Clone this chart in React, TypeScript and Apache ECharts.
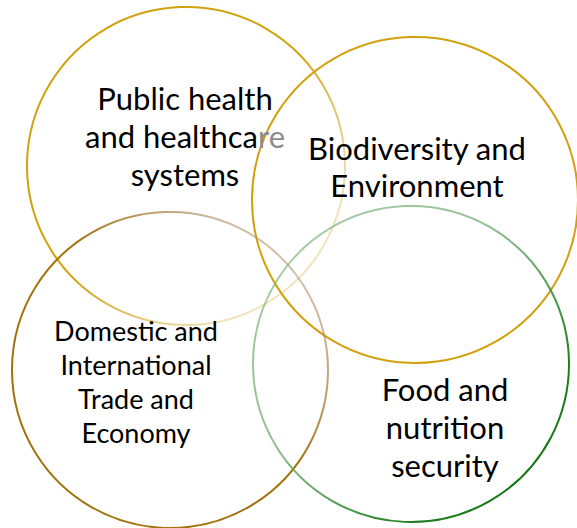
import React, { useEffect, useRef } from "react";
import * as echarts from "echarts";

const circleNames = [
  "Public health and healthcare systems",
  "Biodiversity and Environment",
  "Domestic and International Trade and Economy",
  "Food and nutrition security",
];
const circleX = [186, 415, 170, 411];
const circleY = [166, 200, 370, 364];
const circleR = [159, 163, 158, 158];

const labelLines = [
  ["Public health", "and healthca{g|re}", "systems"],
  ["Biodiversity and", "Environment"],
  ["Domestic and", "International", "Trade and", "Economy"],
  ["Food and", "nutrition", "security"],
];
const labelX = [185, 417, 136, 445];
const labelY = [136, 166, 381, 427];
const labelFont = [31, 31, 27, 31];
const labelLineHeight = [38, 37, 34, 38];

const gradients = [
  { x: 0, y: 0, x2: 1, y2: 1, stops: [[0, "#CFA20E"], [0.5, "#CFA20E"], [0.8, "rgba(220,190,100,0.45)"], [1, "rgba(220,190,100,0.35)"]] },
  { x: 0, y: 0, x2: 1, y2: 1, stops: [[0, "#D1A00C"], [1, "#D1A00C"]] },
  { x: 0, y: 1, x2: 1, y2: 0, stops: [[0, "#A2720C"], [0.55, "#A2720C"], [0.85, "rgba(170,140,100,0.55)"], [1, "rgba(170,140,100,0.5)"]] },
  { x: 0, y: 0, x2: 1, y2: 1, stops: [[0, "rgba(140,190,140,0.7)"], [0.4, "rgba(120,175,120,0.8)"], [0.75, "#1E7F1E"], [1, "#0E700E"]] },
];

export default function App() {
  const ref = useRef<HTMLDivElement>(null);
  useEffect(() => {
    document.body.style.margin = "0";
    const chart = echarts.init(ref.current!, null, { renderer: "svg" });
    const circleData = circleNames.map((name, i) => ({
      name,
      value: [circleX[i], circleY[i]],
      symbolSize: circleR[i] * 2,
      itemStyle: {
        color: "rgba(0,0,0,0)",
        opacity: 1,
        borderWidth: 2,
        borderColor: new echarts.graphic.LinearGradient(
          gradients[i].x, gradients[i].y, gradients[i].x2, gradients[i].y2,
          gradients[i].stops.map(([offset, color]) => ({ offset: offset as number, color: color as string }))
        ),
      },
    }));
    const labelData = circleNames.map((name, i) => ({
      name,
      value: [labelX[i], labelY[i]],
      label: {
        show: true,
        position: "inside",
        formatter: labelLines[i].join("\n"),
        fontSize: labelFont[i],
        lineHeight: labelLineHeight[i],
        color: "#000",
        fontFamily: "Lato",
        align: "center",
        verticalAlign: "middle",
        rich: {
          g: {
            color: "#8c8c8c",
            fontSize: labelFont[i],
            lineHeight: labelLineHeight[i],
            fontFamily: "Lato",
          },
        },
      },
    }));
    chart.setOption({
      animation: false,
      grid: { left: 0, right: 0, top: 0, bottom: 0 },
      xAxis: { type: "value", min: 0, max: 577, show: false },
      yAxis: { type: "value", min: 0, max: 528, inverse: true, show: false },
      series: [
        {
          type: "scatter",
          symbol: "circle",
          data: circleData,
          silent: true,
          itemStyle: { opacity: 1 },
          z: 1,
        },
        {
          type: "scatter",
          symbol: "circle",
          symbolSize: 1,
          itemStyle: { color: "rgba(0,0,0,0)", opacity: 1 },
          data: labelData,
          silent: true,
          z: 2,
        },
      ],
    });
    return () => chart.dispose();
  }, []);
  return (
    <div
      ref={ref}
      style={{ position: "absolute", left: 0, top: 0, width: 577, height: 528, background: "#fff" }}
    />
  );
}
